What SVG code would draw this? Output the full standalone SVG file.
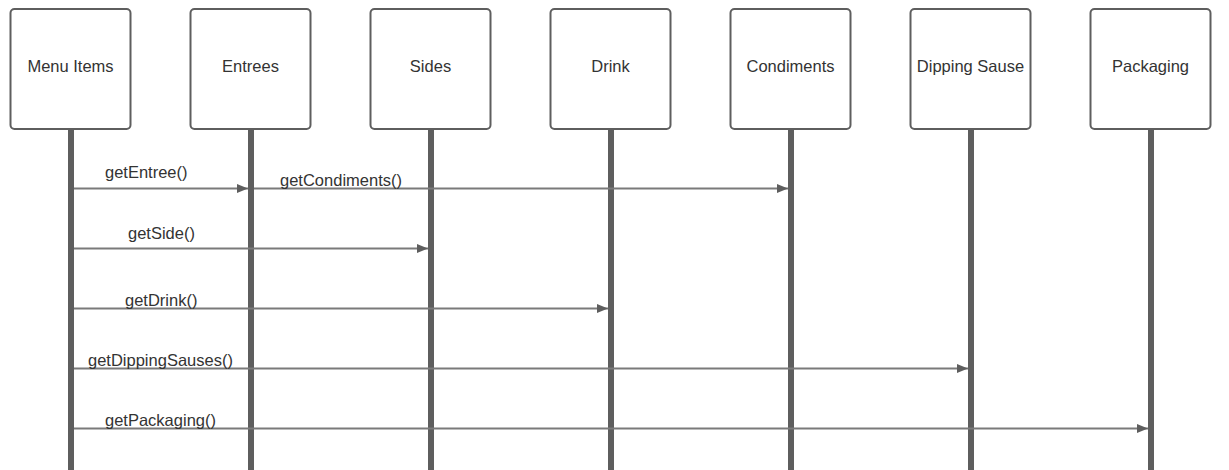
<svg xmlns="http://www.w3.org/2000/svg" width="1229" height="470" viewBox="0 0 1229 470">
<style>
.box{fill:#ffffff;stroke:#5e5e5e;stroke-width:2}
.life{fill:#5e5e5e}
.lbl{font-family:"Liberation Sans",Arial,sans-serif;font-size:16.5px;fill:#333333}
.ctr{text-anchor:middle}
.msg{stroke:#7a7a7a;stroke-width:2;fill:none;marker-end:url(#arr)}
</style>
<defs>
<marker id="arr" markerUnits="userSpaceOnUse" markerWidth="11" markerHeight="9" refX="11" refY="4.5" orient="auto">
<path d="M0,0 L11,4.5 L0,9 z" fill="#5e5e5e"/>
</marker>
</defs>
<rect width="1229" height="470" fill="#ffffff"/>
<g id="node-menu-items"><rect class="life" x="68" y="129" width="6" height="341"/><rect class="box" x="10.5" y="9" width="120" height="120" rx="4"/><text class="lbl ctr" x="70.5" y="72">Menu Items</text></g>
<g id="node-entrees"><rect class="life" x="248" y="129" width="6" height="341"/><rect class="box" x="190.5" y="9" width="120" height="120" rx="4"/><text class="lbl ctr" x="250.5" y="72">Entrees</text></g>
<g id="node-sides"><rect class="life" x="428" y="129" width="6" height="341"/><rect class="box" x="370.5" y="9" width="120" height="120" rx="4"/><text class="lbl ctr" x="430.5" y="72">Sides</text></g>
<g id="node-drink"><rect class="life" x="608" y="129" width="6" height="341"/><rect class="box" x="550.5" y="9" width="120" height="120" rx="4"/><text class="lbl ctr" x="610.5" y="72">Drink</text></g>
<g id="node-condiments"><rect class="life" x="788" y="129" width="6" height="341"/><rect class="box" x="730.5" y="9" width="120" height="120" rx="4"/><text class="lbl ctr" x="790.5" y="72">Condiments</text></g>
<g id="node-dipping-sause"><rect class="life" x="968" y="129" width="6" height="341"/><rect class="box" x="910.5" y="9" width="120" height="120" rx="4"/><text class="lbl ctr" x="970.5" y="72">Dipping Sause</text></g>
<g id="node-packaging"><rect class="life" x="1148" y="129" width="6" height="341"/><rect class="box" x="1090.5" y="9" width="120" height="120" rx="4"/><text class="lbl ctr" x="1150.5" y="72">Packaging</text></g>
<g id="connectors">
<line class="msg" x1="74" y1="188.5" x2="248" y2="188.5"/>
<line class="msg" x1="254" y1="188.5" x2="788" y2="188.5"/>
<line class="msg" x1="74" y1="248.5" x2="428" y2="248.5"/>
<line class="msg" x1="74" y1="308.5" x2="608" y2="308.5"/>
<line class="msg" x1="74" y1="368.5" x2="968" y2="368.5"/>
<line class="msg" x1="74" y1="428.5" x2="1148" y2="428.5"/>
<text class="lbl" x="105" y="178">getEntree()</text>
<text class="lbl" x="280" y="186">getCondiments()</text>
<text class="lbl" x="128" y="239">getSide()</text>
<text class="lbl" x="125" y="306">getDrink()</text>
<text class="lbl" x="88" y="366">getDippingSauses()</text>
<text class="lbl" x="105" y="426">getPackaging()</text>
</g>
</svg>
